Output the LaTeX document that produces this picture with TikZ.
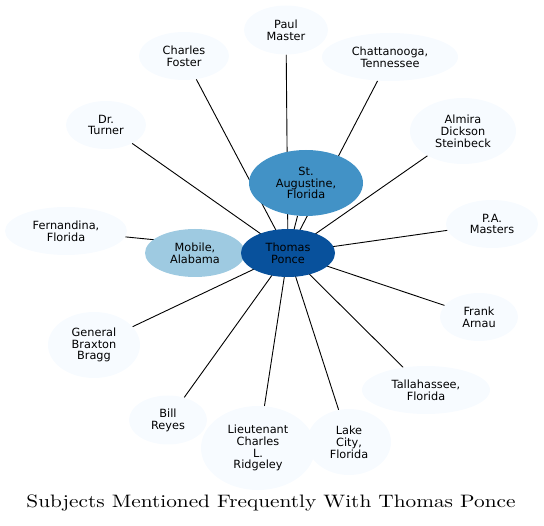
\documentclass[tikz,border=0pt]{standalone}
\usepackage{fontspec}
\newfontfamily\nodefont{DejaVu Sans}
\usetikzlibrary{shapes.geometric,backgrounds}
\definecolor{cdark}{HTML}{08519C}
\definecolor{cmid}{HTML}{4292C6}
\definecolor{clight}{HTML}{9ECAE1}
\definecolor{cleaf}{HTML}{F7FBFF}
\tikzset{
  ent/.style={ellipse, inner sep=0pt, align=center, text=black,
    font=\nodefont\fontsize{11.3}{11.8}\selectfont},
  leaf/.style={ent, fill=cleaf},
  link/.style={draw=black, line width=0.9pt},
  sz/.style 2 args={minimum width=#1pt, minimum height=#2pt},
}
\begin{document}
\begin{tikzpicture}[x=1pt,y=-1pt]
\useasboundingbox (0,0) rectangle (544,526);
% leaves
\node[leaf, sz={84}{49}] (paul) at (286,30) {Paul\\Master};
\node[leaf, sz={90}{48}] (foster) at (184,56) {Charles\\Foster};
\node[leaf, sz={136}{48}] (chat) at (390,57) {Chattanooga,\\Tennessee};
\node[leaf, sz={80}{48}] (turner) at (106,125) {Dr.\\Turner};
\node[leaf, sz={106}{66}] (almira) at (463,131) {Almira\\Dickson\\Steinbeck};
\node[leaf, sz={122}{48}] (fern) at (66,231) {Fernandina,\\Florida};
\node[leaf, sz={92}{48}] (pa) at (492,224) {P.A.\\Masters};
\node[leaf, sz={92}{66}] (bragg) at (94,345) {General\\Braxton\\Bragg};
\node[leaf, sz={78}{48}] (frank) at (479,317) {Frank\\Arnau};
\node[leaf, sz={128}{48}] (tall) at (426,390) {Tallahassee,\\Florida};
\node[leaf, sz={78}{49}] (bill) at (168,420) {Bill\\Reyes};
\node[leaf, sz={114}{84}] (ridge) at (258,448) {Lieutenant\\Charles\\L.\\Ridgeley};
\node[leaf, sz={84}{66}] (lake) at (349,442) {Lake\\City,\\Florida};
% inner nodes
\node[ent, fill=cmid, sz={114}{66}] (aug) at (306,183) {St.\\Augustine,\\Florida};
\node[ent, fill=clight, sz={100}{48}] (mob) at (195,253) {Mobile,\\Alabama};
\node[ent, fill=cdark, sz={94}{48}] (tp) at (288,253) {Thomas\\Ponce};
% title
\node (title) at (271,503) {\scalebox{2.13}[1.8]{\fontsize{10}{12}\selectfont Subjects Mentioned Frequently With Thomas Ponce}};
\begin{pgfonlayer}{background}
\foreach \n in {paul,foster,chat,turner,almira,fern,pa,bragg,frank,tall,bill,ridge,lake,aug,mob}
  \draw[link] (tp.center) -- (\n);
\end{pgfonlayer}
\end{tikzpicture}
\end{document}
